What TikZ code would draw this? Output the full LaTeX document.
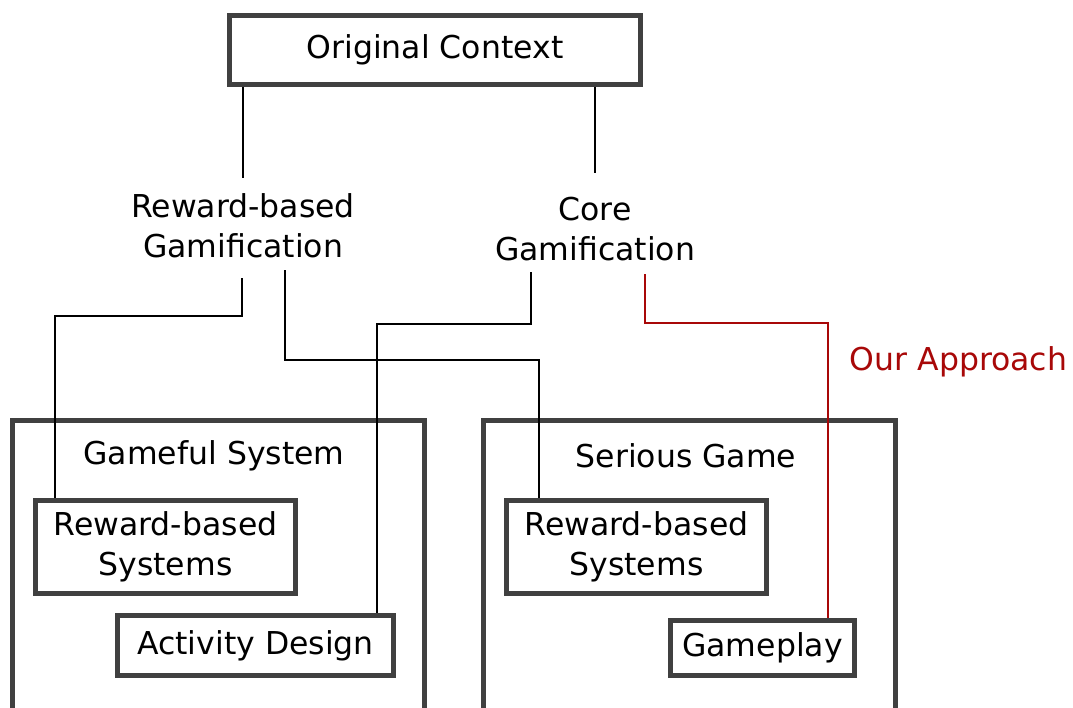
\documentclass[tikz,border=0pt]{standalone}
\usepackage{fontspec}
\setmainfont{DejaVu Sans}
\definecolor{boxgray}{RGB}{64,64,64}
\definecolor{approach}{RGB}{168,8,8}
\tikzset{
  base/.style={font=\fontsize{31.5}{40}\selectfont, align=center, inner sep=0pt},
  frame/.style={base},
  frameline/.style={draw=boxgray, line width=4.8pt},
  container/.style={draw=boxgray, line width=4.8pt, inner sep=0pt},
  lbl/.style={base},
  link/.style={draw=black, line width=1.5pt},
  ourlink/.style={draw=approach, line width=1.5pt},
}
\begin{document}
\begin{tikzpicture}[x=1pt, y=-1pt]
\clip (0,0) rectangle (1073,707);
\fill[white] (0,0) rectangle (1073,707);

% containers
\node[container, minimum width=412pt, minimum height=320pt] (gs) at (218.5,580.5) {};
\node[container, minimum width=412pt, minimum height=320pt] (sg) at (689.5,580.5) {};
\node[lbl] (gst) at (214,456) {Gameful System};
\node[lbl] (sgt) at (686,456) {Serious Game};

% top level
\node[frame, frameline, minimum width=411pt, minimum height=69pt] (orig) at (435,50) {Original Context};
\node[lbl, minimum height=100pt] (rbg) at (243,226) {Reward-based\\Gamification};
\node[lbl, minimum height=100pt] (core) at (595,229) {Core\\Gamification};
\node[lbl, text=approach] (oa) at (958.5,362) {Our Approach};

% inner boxes: text placed now, outlines drawn after the connectors
\node[frame, minimum width=259pt, minimum height=92pt] (rbsL) at (165.5,547) {Reward-based\\Systems};
\node[frame, minimum width=275pt, minimum height=59pt] (act) at (255.5,645.5) {Activity Design};
\node[frame, minimum width=260pt, minimum height=92pt] (rbsR) at (636.5,547) {Reward-based\\Systems};
\node[frame, minimum width=184pt, minimum height=55pt] (gp) at (762.5,648) {Gameplay};

% connectors
\path[link] (orig.south -| rbg.north) -- ([yshift=-2pt]rbg.north);
\path[link] (orig.south -| core.north) -- ([yshift=6pt]core.north);
\path[link] ([xshift=-1pt,yshift=-2pt]rbg.south) -- ++(0,38) -| ([xshift=-110.5pt,yshift=-1pt]rbsL.north);
\path[link] ([xshift=42pt,yshift=6pt]rbg.south) -- ++(0,90) -| ([xshift=-97.5pt,yshift=-1pt]rbsR.north);
\path[link] ([xshift=-64pt,yshift=7pt]core.south) -- ++(0,52) -| ([xshift=121.5pt,yshift=-1pt]act.north);
\path[ourlink] ([xshift=50pt,yshift=5pt]core.south) -- ++(0,49) -| ([xshift=65.5pt,yshift=-1pt]gp.north);

% outlines of the inner boxes
\foreach \n in {rbsL,act,rbsR,gp}{
  \draw[frameline] (\n.north west) rectangle (\n.south east);
}
\end{tikzpicture}
\end{document}
